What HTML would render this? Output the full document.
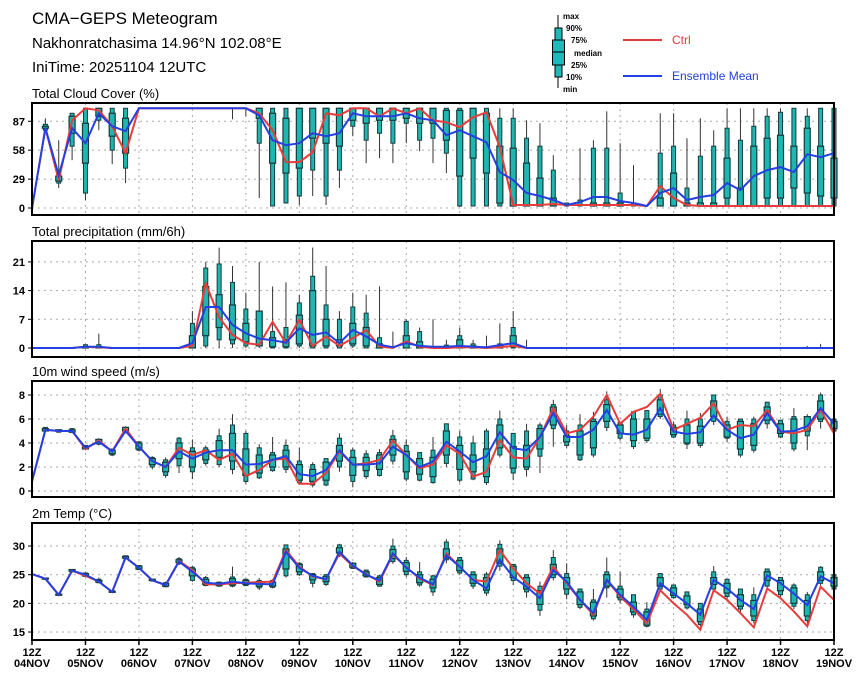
<!DOCTYPE html>
<html><head><meta charset="utf-8"><style>
body{margin:0;background:#fff;}
svg{display:block;font-family:"Liberation Sans",sans-serif;}
.t{font-weight:bold;font-size:11px;fill:#000;}
</style></head><body>
<svg id="chart" width="860" height="678" viewBox="0 0 860 678">
<text x="32" y="24" font-size="17">CMA−GEPS Meteogram</text>
<text x="32" y="48" font-size="15">Nakhonratchasima 14.96°N 102.08°E</text>
<text x="32" y="72" font-size="15">IniTime: 20251104 12UTC</text>
<g>
<line x1="558" y1="15" x2="558" y2="88" stroke="#000" stroke-width="1"/>
<rect x="555" y="28" width="7" height="49" fill="#20b8b8" stroke="#000"/>
<rect x="552.5" y="40" width="12" height="25" fill="#20b8b8" stroke="#000"/>
<line x1="552.5" y1="52" x2="564.5" y2="52" stroke="#000"/>
<g font-size="8" font-weight="bold">
<text x="563" y="19">max</text><text x="566" y="31">90%</text><text x="571" y="43">75%</text><text x="574" y="56">median</text><text x="571" y="68">25%</text><text x="566" y="80">10%</text><text x="563" y="92">min</text>
</g>
<line x1="623" y1="40" x2="662" y2="40" stroke="#e03c3c" stroke-width="2"/>
<text x="672" y="44" font-size="12" fill="#e03c3c">Ctrl</text>
<line x1="623" y1="76" x2="662" y2="76" stroke="#2040e0" stroke-width="2"/>
<text x="672" y="80" font-size="12" fill="#2040e0">Ensemble Mean</text>
</g>
</svg>
<script>
// ---- data (61 steps, 6-hourly from 12Z 04NOV) ----
const dayLabels = ["04NOV","05NOV","06NOV","07NOV","08NOV","09NOV","10NOV","11NOV","12NOV","13NOV","14NOV","15NOV","16NOV","17NOV","18NOV","19NOV"];
const cloudTicks = [0,29,58,87];
const precipTicks = [0,7,14,21];
const windTicks = [0,2,4,6,8];
const tempTicks = [15,20,25,30];

const cloudMean = [0,80,33,80,65,95,82,77,100,100,100,100,100,100,100,100,100,93,68,63,65,75,72,75,95,92,92,92,95,90,88,73,78,72,66,36,28,15,12,8,3,6,11,11,7,5,2,15,20,8,11,13,25,18,32,38,41,36,54,51,55];
const cloudCtrl = [0,80,28,88,100,98,82,55,100,100,100,100,100,100,100,100,100,95,78,46,46,56,95,93,100,100,92,100,95,100,88,86,81,91,96,61,3,3,3,4,3,3,3,3,3,3,2,22,10,3,2,2,2,2,2,2,2,2,2,2,2];
const cloudMin = [0,75,20,48,8,78,44,25,100,100,100,100,100,100,100,89,92,10,2,5,3,12,3,20,72,45,50,45,65,57,45,35,1,2,2,2,2,2,2,2,2,2,2,2,2,2,2,2,2,2,2,2,2,2,2,2,2,2,2,2,2];
const cloudP10 = [0,78,25,62,15,88,58,40,100,100,100,100,100,100,100,100,100,65,2,5,12,38,12,38,82,68,75,65,85,68,70,55,2,2,2,2,2,2,2,2,2,2,2,2,2,2,2,2,2,2,2,2,2,2,2,2,2,2,2,2,2];
const cloudP25 = [0,80,27,75,45,92,72,55,100,100,100,100,100,100,100,100,100,90,45,35,40,70,65,62,88,85,88,88,90,85,85,68,32,50,35,5,2,2,2,2,2,2,2,2,2,2,2,2,2,2,2,2,10,2,2,10,10,20,15,12,10];
const cloudP75 = [0,82,32,92,85,100,95,90,100,100,100,100,100,100,100,100,100,100,95,90,100,100,100,100,100,100,100,100,100,100,100,98,98,100,95,62,60,45,30,10,2,2,5,5,5,2,2,10,35,5,5,5,50,20,62,70,73,62,80,62,50];
const cloudP90 = [0,84,35,95,100,100,100,100,100,100,100,100,100,100,100,100,100,100,100,100,100,100,100,100,100,100,100,100,100,100,100,100,100,100,100,90,90,70,62,38,5,8,60,60,15,5,2,55,62,20,52,62,80,68,82,92,96,100,92,100,100];
const cloudMax = [0,90,68,95,100,100,100,100,100,100,100,100,100,100,100,100,100,100,100,100,100,100,100,100,100,100,100,100,100,100,100,100,100,100,100,100,100,88,85,53,5,60,68,97,65,43,2,95,95,70,90,78,100,100,100,100,100,100,100,100,100];

const precipMean = [0,0,0,0,0.3,0.3,0,0,0,0,0,0,1.2,10,10,5.6,3.6,2.3,1.9,1.3,4.8,3.2,3.8,1.2,4.4,2.8,0.8,0.2,1.2,0.5,0.3,0.3,0.5,0.3,0.2,0.7,1.2,0,0,0,0,0,0,0,0,0,0,0,0,0,0,0,0,0,0,0,0,0,0,0,0];
const precipCtrl = [0,0,0,0,0.3,0.2,0,0,0,0,0,0,0.5,15.8,7.5,3.2,1.2,0.8,6.4,1.2,6.9,0.5,2.8,0.5,2.4,4.4,0.4,0,1.6,0.3,0,0,0.2,0.2,0,0.2,0.5,0,0,0,0,0,0,0,0,0,0,0,0,0,0,0,0,0,0,0,0,0,0,0,0];
const precipMin = [0,0,0,0,0,0,0,0,0,0,0,0,0,0,0,0,0,0,0,0,0,0,0,0,0,0,0,0,0,0,0,0,0,0,0,0,0,0,0,0,0,0,0,0,0,0,0,0,0,0,0,0,0,0,0,0,0,0,0,0,0];
const precipP10 = [0,0,0,0,0,0,0,0,0,0,0,0,0,0.5,2,1,0.5,0.5,0,0,0.5,0,0,0,0.5,0,0,0,0,0,0,0,0,0,0,0,0,0,0,0,0,0,0,0,0,0,0,0,0,0,0,0,0,0,0,0,0,0,0,0,0];
const precipP25 = [0,0,0,0,0,0,0,0,0,0,0,0,0,3,5,2,1.5,0.5,0.3,0.3,1,0.5,0.5,0.5,1,0.5,0,0,0,0,0,0,0,0,0,0,0.3,0,0,0,0,0,0,0,0,0,0,0,0,0,0,0,0,0,0,0,0,0,0,0,0];
const precipP75 = [0,0,0,0,0.3,0.3,0,0,0,0,0,0,3,15,13,10.5,6,9,2.5,2,8,14,7,2,6,5,1,0,3,1.5,0,0.3,2,0.5,0,0.5,3,0,0,0,0,0,0,0,0,0,0,0,0,0,0,0,0,0,0,0,0,0,0,0,0];
const precipP90 = [0,0,0,0,0.8,0.8,0,0,0,0,0,0,6,19.5,20.5,16,9.5,9,4,5,11,17.5,10.5,7,10,8.5,2.5,0,6.5,4,0,0.7,3,1,0,1,5,0,0,0,0,0,0,0,0,0,0,0,0,0,0,0,0,0,0,0,0,0,0,0,0];
const precipMax = [0,0,0,0,0.8,3.5,0,0,0,0,0,0,9,21,24.5,20,13.5,21,15,16,13,24.5,20,9,13.5,13,15,4,7,5,7,2,5,2,3,6,9,2,0,0,0,0,0,0,0,0,0,0,0,0,0,0,0,0,0,0,0,0,0.5,1,0];

const windMean = [0.8,5.1,5.0,5.0,3.6,4.1,3.3,5.0,3.7,2.5,2.0,3.3,2.7,3.2,3.4,3.4,2.2,2.25,2.6,2.9,1.4,1.25,1.75,3.4,2.2,2.2,2.3,3.7,3.0,2.0,2.45,4.1,3.3,2.4,2.9,4.9,3.56,3.4,4.5,6.5,4.5,4.5,5.1,6.75,4.8,4.7,5.1,6.9,4.95,4.75,4.9,6.3,5.1,4.4,4.7,6.5,4.95,5.0,5.4,6.9,5.6];
const windCtrl = [0.8,5.1,5.0,5.0,3.5,4.2,3.3,5.2,3.7,2.5,2.0,3.6,3.0,3.4,2.6,3.1,1.25,1.75,2.6,2.7,0.6,0.6,1.5,3.3,2.2,2.3,2.6,4.2,3.0,1.9,2.2,3.8,3.1,1.2,1.6,4.25,2.8,2.7,4.5,6.9,4.8,5.1,6.2,8.0,5.6,6.6,7.0,8.1,5.1,5.6,6.1,7.3,5.1,5.5,5.4,6.75,4.95,4.8,5.1,6.75,4.8];
const windMin = [0.8,4.9,4.9,4.8,3.4,3.8,2.9,4.8,3.3,1.8,1.1,1.5,1.0,2.1,2.0,1.4,0.6,1.0,1.6,1.5,0.6,0.3,0.4,1.6,0.3,1.0,1.2,2.2,0.8,0.8,0.6,2.0,0.7,0.9,0.5,2.8,0.9,1.2,1.5,3.7,3.6,2.5,2.8,5.0,4.2,3.5,4.0,6.0,4.4,3.5,3.6,5.5,4.1,2.8,3.2,5.2,4.4,3.3,3.4,5.2,4.8];
const windP10 = [0.8,5.0,4.9,4.9,3.5,3.9,3.0,4.9,3.4,2.0,1.3,2.1,1.6,2.3,2.2,1.8,0.8,1.1,1.7,1.8,0.7,0.5,0.5,2.0,0.8,1.2,1.3,2.5,1.0,0.9,0.7,2.3,0.9,1.0,0.7,3.0,1.5,1.8,2.9,5.2,3.8,2.6,3.0,5.3,4.4,3.7,4.2,6.2,4.5,3.9,3.8,5.8,4.4,3.0,3.4,5.6,4.5,3.5,4.6,5.8,5.0];
const windP25 = [0.8,5.0,5.0,4.9,3.5,4.0,3.1,5.0,3.5,2.2,1.6,2.7,2.0,2.6,2.8,2.5,1.3,1.5,2.0,2.0,0.9,0.8,0.9,2.5,1.3,1.7,1.8,3.0,1.6,1.4,1.2,3.0,1.8,1.6,1.2,3.6,1.9,2.0,3.5,5.5,4.1,3.0,3.6,5.8,4.8,4.2,4.4,6.4,4.7,4.0,4.0,6.2,4.5,3.5,3.8,5.9,4.8,4.0,5.0,6.0,5.2];
const windP75 = [0.8,5.2,5.1,5.1,3.7,4.3,3.4,5.3,4.0,2.7,2.4,4.0,3.3,3.4,4.2,4.8,3.5,3.0,3.0,3.4,2.2,1.8,2.4,3.8,2.8,2.8,3.0,4.3,3.3,2.7,2.8,5.0,3.8,3.0,3.5,5.5,3.7,3.8,5.2,7.0,4.6,5.0,5.8,7.2,5.5,6.0,6.0,7.6,5.3,5.5,5.4,7.5,5.5,5.8,5.6,7.0,5.6,6.0,6.2,7.5,5.8];
const windP90 = [0.8,5.3,5.1,5.2,3.8,4.3,3.5,5.3,4.1,2.8,2.6,4.4,3.6,3.6,4.6,5.5,4.8,3.6,3.2,3.8,2.5,2.2,2.7,4.4,3.4,3.1,3.2,4.6,3.8,3.2,3.4,5.6,4.5,4.0,5.0,6.0,4.8,5.0,5.5,7.2,5.0,5.5,6.0,7.6,5.7,6.6,6.7,8.0,5.5,6.0,6.0,8.0,5.8,6.0,6.0,7.4,5.9,6.2,6.2,8.0,6.0];
const windMax = [0.8,5.3,5.1,5.2,3.8,4.4,3.5,5.4,4.1,2.9,2.8,4.5,4.3,3.8,5.2,6.4,5.0,3.9,4.5,4.3,3.6,2.4,2.7,4.8,3.6,3.4,3.5,5.1,4.3,3.2,4.5,5.6,5.0,4.6,5.2,6.7,4.8,5.6,5.7,7.6,5.5,6.4,6.6,8.3,5.8,6.6,6.7,8.5,5.8,6.7,6.5,8.0,6.2,6.0,6.2,7.4,5.9,6.9,6.4,8.2,6.0];

const tempMean = [25.1,24.3,21.5,25.7,25.0,23.8,22.0,28.0,26.2,24.0,23.2,27.3,25.5,23.6,23.4,23.8,23.5,23.4,23.3,29.0,26.2,24.8,24.2,29.0,26.6,25.0,24.0,28.7,26.2,24.5,23.3,28.4,26.4,24.1,22.6,27.6,24.6,22.9,20.9,25.8,23.8,20.6,18.3,24.1,21.5,19.4,17.1,23.5,21.7,20.0,18.0,24.1,22.6,20.6,19.0,24.9,23.5,21.7,19.7,24.7,23.5];
const tempCtrl = [25.1,24.3,21.5,25.7,24.8,23.8,22.0,28.0,26.2,24.0,23.2,27.4,25.8,23.3,23.3,23.5,23.6,23.7,23.8,29.3,26.4,24.7,24.2,28.7,26.5,25.1,23.8,28.5,26.3,24.3,23.2,28.7,26.4,24.1,23.8,29.3,26.1,23.5,21.7,26.4,23.5,20.6,18.0,24.1,21.2,19.0,16.5,22.3,20.0,18.0,15.4,22.3,20.6,18.3,15.8,22.6,20.9,18.6,16.0,22.9,20.6];
const tempMin = [25.1,24.2,21.4,25.5,24.6,23.5,21.9,27.7,25.8,23.8,22.8,26.7,23.8,23.0,22.9,22.8,23.0,22.3,22.6,24.5,24.8,22.8,23.0,28.1,26.0,24.5,22.9,26.9,24.6,22.9,21.3,27.0,25.0,22.5,21.3,25.7,23.2,21.0,17.8,24.0,20.7,19.0,17.0,21.0,20.0,17.5,15.8,22.0,20.8,18.9,16.0,22.0,20.7,18.4,16.5,22.3,21.0,19.0,16.5,23.0,22.0];
const tempP10 = [25.1,24.2,21.4,25.5,24.7,23.6,21.9,27.8,25.9,23.9,22.9,26.9,24.0,23.1,23.0,23.0,23.1,22.7,22.8,24.8,25.0,23.5,23.3,28.3,26.1,24.6,23.0,27.3,25.0,23.2,22.0,27.6,25.3,23.0,21.8,26.5,24.0,22.0,18.8,24.5,21.6,19.3,17.3,22.7,20.6,18.0,16.0,22.5,21.0,19.2,16.3,22.5,21.2,19.0,17.0,23.0,21.5,19.5,17.0,23.5,22.5];
const tempP25 = [25.1,24.3,21.5,25.6,24.8,23.7,22.0,27.9,26.0,24.0,23.0,27.1,24.8,23.3,23.1,23.2,23.3,23.0,23.0,26.0,25.5,24.1,23.8,28.8,26.3,24.8,23.3,27.8,25.6,23.6,22.7,27.9,25.7,23.5,22.3,27.0,24.5,22.5,19.8,25.0,22.5,19.8,17.8,23.0,21.0,18.5,16.2,23.0,21.4,19.8,16.8,23.3,21.8,19.5,17.8,24.0,22.2,20.0,17.8,24.0,23.0];
const tempP75 = [25.1,24.4,21.6,25.9,25.2,24.0,22.1,28.2,26.5,24.2,23.5,27.6,26.0,24.2,23.6,24.3,24.0,23.8,23.7,29.5,26.8,25.0,24.7,29.7,27.0,25.5,24.5,29.4,27.1,25.0,24.2,29.5,27.5,25.0,24.5,29.5,26.5,24.5,22.2,26.8,24.5,22.0,20.2,25.0,22.5,20.2,18.5,24.5,22.7,21.3,19.0,24.5,23.5,21.5,20.5,25.5,24.0,22.7,20.5,25.5,24.5];
const tempP90 = [25.1,24.4,21.6,25.9,25.3,24.2,22.2,28.3,26.6,24.2,23.6,27.8,26.3,24.5,23.7,24.6,24.2,24.0,24.0,30.2,27.0,25.2,25.0,30.2,27.0,25.8,24.8,30.0,27.5,25.5,24.8,30.7,28.0,25.5,25.1,30.3,26.8,25.0,23.0,28.0,25.2,22.5,20.6,25.5,23.0,21.5,19.0,25.2,23.2,22.0,20.0,25.5,24.2,22.5,21.5,26.0,24.5,23.2,21.5,26.3,25.0];
const tempMax = [25.1,24.4,21.6,26.0,25.4,24.5,22.2,28.4,26.6,24.3,23.8,28.1,26.5,24.8,23.8,26.4,24.3,24.4,24.2,30.2,27.2,25.2,25.1,30.4,27.2,25.9,25.0,31.3,28.1,27.2,25.0,31.2,28.0,25.5,25.5,31.0,26.8,25.0,23.8,29.3,27.0,22.5,22.5,28.0,25.5,21.5,20.2,25.2,23.2,22.0,20.0,26.5,24.2,22.5,22.8,26.0,24.5,23.5,22.0,26.5,25.0];

// ---- layout ----
const NS = "http://www.w3.org/2000/svg";
const svg = document.getElementById("chart");
const X0 = 32, X1 = 834, NSTEP = 60;
function xAt(i){ return X0 + (X1 - X0) * i / NSTEP; }
function mk(tag, attrs, parent){ const e = document.createElementNS(NS, tag); for (const k in attrs) e.setAttribute(k, attrs[k]); (parent||svg).appendChild(e); return e; }

const panels = [
 {key:"cloud", title:"Total Cloud Cover (%)", top:103, bot:215, y0:208, v0:0, k:0.997, ticks:cloudTicks,
  mean:cloudMean, ctrl:cloudCtrl, mn:cloudMin, p10:cloudP10, p25:cloudP25, p75:cloudP75, p90:cloudP90, mx:cloudMax},
 {key:"precip", title:"Total precipitation (mm/6h)", top:241, bot:357, y0:348, v0:0, k:4.1, ticks:precipTicks,
  mean:precipMean, ctrl:precipCtrl, mn:precipMin, p10:precipP10, p25:precipP25, p75:precipP75, p90:precipP90, mx:precipMax},
 {key:"wind", title:"10m wind speed (m/s)", top:381, bot:497, y0:491, v0:0, k:12, ticks:windTicks,
  mean:windMean, ctrl:windCtrl, mn:windMin, p10:windP10, p25:windP25, p75:windP75, p90:windP90, mx:windMax},
 {key:"temp", title:"2m Temp (°C)", top:523, bot:640, y0:632, v0:15, k:5.73, ticks:tempTicks,
  mean:tempMean, ctrl:tempCtrl, mn:tempMin, p10:tempP10, p25:tempP25, p75:tempP75, p90:tempP90, mx:tempMax}
];

panels.forEach(function(p){
  const yAt = function(v){ return p.y0 - (v - p.v0) * p.k; };
  const g = mk("g", {});
  
  
  const title = mk("text", {x:X0, y:p.top - 5, "font-size":13}, g);
  title.textContent = p.title;
  
  
  for (let d = 1; d < dayLabels.length - 1; d++) {
    const gx = xAt(d * 4);
    const gl = mk("line", {x1:gx, x2:gx, y1:p.top, y2:p.bot, stroke:"#aaa", "stroke-dasharray":"2,4", "stroke-width":1}, g);
    
    
  }
  p.ticks.forEach(function(t){
    const ty = yAt(t);
    const hl = mk("line", {x1:X0, x2:X1, y1:ty, y2:ty, stroke:"#aaa", "stroke-dasharray":"2,4", "stroke-width":1}, g);
    
    
    mk("line", {x1:X0-4, x2:X0, y1:ty, y2:ty, stroke:"#000", "stroke-width":1}, g);
    const tl = mk("text", {x:X0-7, y:ty+4, "text-anchor":"end", class:"t"}, g);
    tl.textContent = t;
    
    
  });
  for (let i = 0; i < p.mean.length; i++) {
    const bx = xAt(i);
    const bg = mk("g", {}, g);
    
    
    if (p.mx[i] - p.mn[i] > 0) {
      mk("line", {x1:bx, x2:bx, y1:yAt(p.mx[i]), y2:yAt(p.mn[i]), stroke:"#333", "stroke-width":1}, bg);
    }
    if (p.p90[i] - p.p10[i] > 0) {
      mk("rect", {x:bx-2, y:yAt(p.p90[i]), width:4, height:Math.max(1, yAt(p.p10[i]) - yAt(p.p90[i])), fill:"#1fb5b0", stroke:"#143c3c", "stroke-width":1}, bg);
    }
    if (p.p75[i] - p.p25[i] > 0) {
      mk("rect", {x:bx-3, y:yAt(p.p75[i]), width:6, height:Math.max(1, yAt(p.p25[i]) - yAt(p.p75[i])), fill:"#1fb5b0", stroke:"#143c3c", "stroke-width":1.2}, bg);
    }
  }
  const mkPath = function(arr){ return arr.map(function(v, i){ return (i ? "L" : "M") + xAt(i).toFixed(1) + "," + yAt(v).toFixed(1); }).join(""); };
  const ctrlLine = mk("path", {d:mkPath(p.ctrl), fill:"none", stroke:"#e83c3c", "stroke-width":2}, g);
  
  
  const meanLine = mk("path", {d:mkPath(p.mean), fill:"none", stroke:"#2440e0", "stroke-width":2}, g);
  
  
  const fr = mk("rect", {x:X0, y:p.top, width:X1-X0, height:p.bot-p.top, fill:"none", stroke:"#000", "stroke-width":2}, g);
  
  
});

const last = panels[3];
dayLabels.forEach(function(lab, d){
  const dx = xAt(d * 4);
  mk("line", {x1:dx, x2:dx, y1:last.bot, y2:last.bot + 5, stroke:"#000", "stroke-width":1.5});
  const t1 = mk("text", {x:dx, y:last.bot + 16, "text-anchor":"middle", class:"t"});
  t1.textContent = "12Z";
  
  
  const t2 = mk("text", {x:dx, y:last.bot + 27, "text-anchor":"middle", class:"t"});
  t2.textContent = lab;
  
  
});
</script>
</body></html>
